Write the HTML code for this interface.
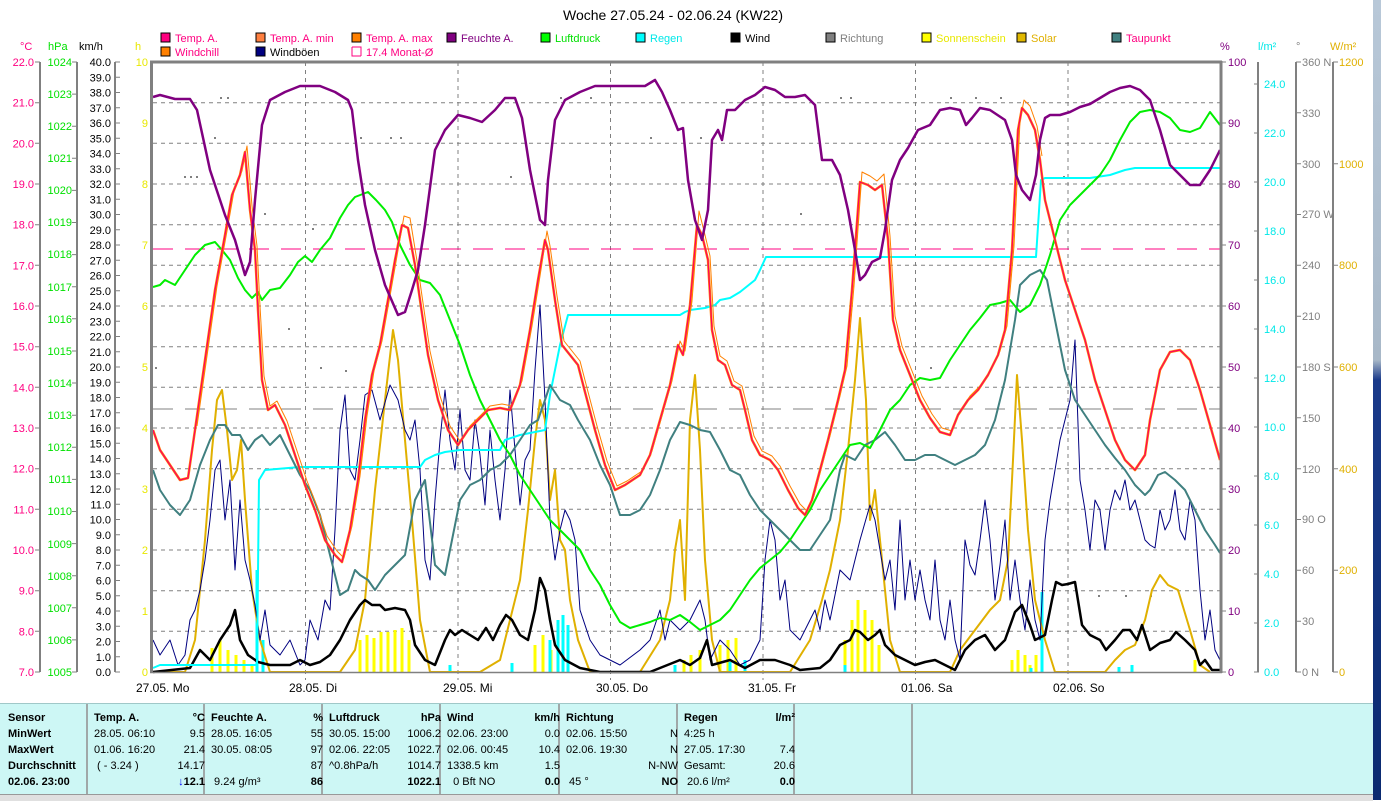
<!DOCTYPE html>
<html><head><meta charset="utf-8"><style>
body{margin:0;width:1381px;height:800px;background:#fff;overflow:hidden;position:relative;font-family:"Liberation Sans",sans-serif}
svg{position:absolute;left:0;top:0}
.tb{position:absolute;top:703px;left:0;width:1373px;height:91px;background:#cdf7f5;border-top:1px solid #a0c8c8}
.col{position:absolute;top:0;height:91px;border-right:2px solid #a0a8a8;font-size:11px;line-height:16px}
.col div{position:relative;height:16px;white-space:nowrap}
.col .r{position:absolute;right:4px;top:0}
.b{font-weight:bold}
.st{position:absolute;top:794px;left:0;width:1373px;height:6px;background:#e0e0e0;border-top:1px solid #999}
.desk{position:absolute;left:1373px;top:0;width:8px;height:800px;background:linear-gradient(#b8c8d8 0,#a8b8c8 360px,#1a3a8a 380px,#0a2a70 800px)}
</style></head><body>
<svg width="1381" height="800" font-family="Liberation Sans, sans-serif" font-size="11">
<text x="673" y="20" font-size="14" text-anchor="middle">Woche 27.05.24 - 02.06.24 (KW22)</text>
<g font-size="11">
<rect x="161" y="33" width="9" height="9" fill="#ff0080" stroke="#000"/><text x="175" y="42" fill="#ff0080">Temp. A.</text>
<rect x="256" y="33" width="9" height="9" fill="#ff8040" stroke="#000"/><text x="270" y="42" fill="#ff0080">Temp. A. min</text>
<rect x="352" y="33" width="9" height="9" fill="#ff8000" stroke="#000"/><text x="366" y="42" fill="#ff0080">Temp. A. max</text>
<rect x="447" y="33" width="9" height="9" fill="#800080" stroke="#000"/><text x="461" y="42" fill="#800080">Feuchte A.</text>
<rect x="541" y="33" width="9" height="9" fill="#00ff00" stroke="#000"/><text x="555" y="42" fill="#00e000">Luftdruck</text>
<rect x="636" y="33" width="9" height="9" fill="#00ffff" stroke="#000"/><text x="650" y="42" fill="#00e8e8">Regen</text>
<rect x="731" y="33" width="9" height="9" fill="#000" stroke="#000"/><text x="745" y="42">Wind</text>
<rect x="826" y="33" width="9" height="9" fill="#808080" stroke="#000"/><text x="840" y="42" fill="#808080">Richtung</text>
<rect x="922" y="33" width="9" height="9" fill="#ffff00" stroke="#000"/><text x="936" y="42" fill="#e8e800">Sonnenschein</text>
<rect x="1017" y="33" width="9" height="9" fill="#e0b800" stroke="#000"/><text x="1031" y="42" fill="#e0b000">Solar</text>
<rect x="1112" y="33" width="9" height="9" fill="#408080" stroke="#000"/><text x="1126" y="42" fill="#ff0080">Taupunkt</text>
<rect x="161" y="47" width="9" height="9" fill="#ff8000" stroke="#000"/><text x="175" y="56" fill="#ff0080">Windchill</text>
<rect x="256" y="47" width="9" height="9" fill="#000080" stroke="#000"/><text x="270" y="56">Windböen</text>
<path d="M352 47v9h9M352 47h9v9" fill="none" stroke="#ff0080"/><text x="366" y="56" fill="#ff0080">17.4 Monat-Ø</text>
</g>
<text x="20" y="50" fill="#ff0080">°C</text><text x="48" y="50" fill="#00e000">hPa</text><text x="79" y="50">km/h</text><text x="135" y="50" fill="#e8e800">h</text>
<text x="1220" y="50" fill="#800080">%</text><text x="1258" y="50" fill="#00e8e8">l/m²</text><text x="1296" y="50" fill="#808080">°</text><text x="1330" y="50" fill="#e0b000">W/m²</text>
<g stroke="#808080" stroke-width="2"><line x1="40" y1="62" x2="40" y2="672"/><line x1="77" y1="62" x2="77" y2="672"/><line x1="115" y1="62" x2="115" y2="672"/>
<line x1="1258" y1="62" x2="1258" y2="672"/><line x1="1296" y1="62" x2="1296" y2="672"/><line x1="1333" y1="62" x2="1333" y2="672"/></g>
<g fill="#ff0080" text-anchor="end" stroke="#808080">
<g stroke-width="1">
<path d="M35 62h5M35 102.7h5M35 143.3h5M35 184h5M35 224.7h5M35 265.3h5M35 306h5M35 346.7h5M35 387.3h5M35 428h5M35 468.7h5M35 509.3h5M35 550h5M35 590.7h5M35 631.3h5M35 672h5"/></g>
<g stroke="none"><text x="34" y="66">22.0</text><text x="34" y="106.7">21.0</text><text x="34" y="147.3">20.0</text><text x="34" y="188">19.0</text><text x="34" y="228.7">18.0</text><text x="34" y="269.3">17.0</text><text x="34" y="310">16.0</text><text x="34" y="350.7">15.0</text><text x="34" y="391.3">14.0</text><text x="34" y="432">13.0</text><text x="34" y="472.7">12.0</text><text x="34" y="513.3">11.0</text><text x="34" y="554">10.0</text><text x="34" y="594.7">9.0</text><text x="34" y="635.3">8.0</text><text x="34" y="676">7.0</text></g></g>
<g fill="#00e000" text-anchor="end">
<path stroke="#808080" d="M72 62h5M72 94.1h5M72 126.2h5M72 158.3h5M72 190.4h5M72 222.5h5M72 254.6h5M72 286.7h5M72 318.8h5M72 351h5M72 383h5M72 415.2h5M72 447.3h5M72 479.4h5M72 511.5h5M72 543.6h5M72 575.7h5M72 607.8h5M72 639.9h5M72 672h5"/>
<text x="72" y="66">1024</text><text x="72" y="98">1023</text><text x="72" y="130">1022</text><text x="72" y="162">1021</text><text x="72" y="194">1020</text><text x="72" y="226">1019</text><text x="72" y="258">1018</text><text x="72" y="291">1017</text><text x="72" y="323">1016</text><text x="72" y="355">1015</text><text x="72" y="387">1014</text><text x="72" y="419">1013</text><text x="72" y="451">1012</text><text x="72" y="483">1011</text><text x="72" y="515">1010</text><text x="72" y="548">1009</text><text x="72" y="580">1008</text><text x="72" y="612">1007</text><text x="72" y="644">1006</text><text x="72" y="676">1005</text></g>
<g text-anchor="end" font-size="11">
<path stroke="#808080" d="M115 62h5M115 77.3h5M115 92.5h5M115 107.8h5M115 123h5M115 138.3h5M115 153.5h5M115 168.8h5M115 184h5M115 199.3h5M115 214.5h5M115 229.8h5M115 245h5M115 260.3h5M115 275.5h5M115 290.8h5M115 306h5M115 321.3h5M115 336.5h5M115 351.8h5M115 367h5M115 382.3h5M115 397.5h5M115 412.8h5M115 428h5M115 443.3h5M115 458.5h5M115 473.8h5M115 489h5M115 504.3h5M115 519.5h5M115 534.8h5M115 550h5M115 565.3h5M115 580.5h5M115 595.8h5M115 611h5M115 626.3h5M115 641.5h5M115 656.8h5M115 672h5"/>
<text x="111" y="66">40.0</text><text x="111" y="81.3">39.0</text><text x="111" y="96.5">38.0</text><text x="111" y="111.8">37.0</text><text x="111" y="127">36.0</text><text x="111" y="142.3">35.0</text><text x="111" y="157.5">34.0</text><text x="111" y="172.8">33.0</text><text x="111" y="188">32.0</text><text x="111" y="203.3">31.0</text><text x="111" y="218.5">30.0</text><text x="111" y="233.8">29.0</text><text x="111" y="249">28.0</text><text x="111" y="264.3">27.0</text><text x="111" y="279.5">26.0</text><text x="111" y="294.8">25.0</text><text x="111" y="310">24.0</text><text x="111" y="325.3">23.0</text><text x="111" y="340.5">22.0</text><text x="111" y="355.8">21.0</text><text x="111" y="371">20.0</text><text x="111" y="386.3">19.0</text><text x="111" y="401.5">18.0</text><text x="111" y="416.8">17.0</text><text x="111" y="432">16.0</text><text x="111" y="447.3">15.0</text><text x="111" y="462.5">14.0</text><text x="111" y="477.8">13.0</text><text x="111" y="493">12.0</text><text x="111" y="508.3">11.0</text><text x="111" y="523.5">10.0</text><text x="111" y="538.8">9.0</text><text x="111" y="554">8.0</text><text x="111" y="569.3">7.0</text><text x="111" y="584.5">6.0</text><text x="111" y="599.8">5.0</text><text x="111" y="615">4.0</text><text x="111" y="630.3">3.0</text><text x="111" y="645.5">2.0</text><text x="111" y="660.8">1.0</text><text x="111" y="676">0.0</text></g>
<g fill="#e8e800" text-anchor="end"><text x="148" y="66">10</text><text x="148" y="127">9</text><text x="148" y="188">8</text><text x="148" y="249">7</text><text x="148" y="310">6</text><text x="148" y="371">5</text><text x="148" y="432">4</text><text x="148" y="493">3</text><text x="148" y="554">2</text><text x="148" y="615">1</text><text x="148" y="676">0</text></g>
<g fill="#800080"><path stroke="#808080" d="M1221 62h5M1221 123h5M1221 184h5M1221 245h5M1221 306h5M1221 367h5M1221 428h5M1221 489h5M1221 550h5M1221 611h5M1221 672h5"/>
<text x="1228" y="66">100</text><text x="1228" y="127">90</text><text x="1228" y="188">80</text><text x="1228" y="249">70</text><text x="1228" y="310">60</text><text x="1228" y="371">50</text><text x="1228" y="432">40</text><text x="1228" y="493">30</text><text x="1228" y="554">20</text><text x="1228" y="615">10</text><text x="1228" y="676">0</text></g>
<g fill="#00e8e8"><path stroke="#808080" d="M1254 84h5M1254 133h5M1254 182h5M1254 231h5M1254 280h5M1254 329h5M1254 378h5M1254 427h5M1254 476h5M1254 525h5M1254 574h5M1254 623h5M1254 672h5"/>
<text x="1264" y="88">24.0</text><text x="1264" y="137">22.0</text><text x="1264" y="186">20.0</text><text x="1264" y="235">18.0</text><text x="1264" y="284">16.0</text><text x="1264" y="333">14.0</text><text x="1264" y="382">12.0</text><text x="1264" y="431">10.0</text><text x="1264" y="480">8.0</text><text x="1264" y="529">6.0</text><text x="1264" y="578">4.0</text><text x="1264" y="627">2.0</text><text x="1264" y="676">0.0</text></g>
<g fill="#808080"><path stroke="#808080" d="M1296 62h5M1296 112.8h5M1296 163.7h5M1296 214.5h5M1296 265.3h5M1296 316.2h5M1296 367h5M1296 417.8h5M1296 468.7h5M1296 519.5h5M1296 570.3h5M1296 621.2h5M1296 672h5"/>
<text x="1302" y="66">360 N</text><text x="1302" y="117">330</text><text x="1302" y="168">300</text><text x="1302" y="218">270 W</text><text x="1302" y="269">240</text><text x="1302" y="320">210</text><text x="1302" y="371">180 S</text><text x="1302" y="422">150</text><text x="1302" y="473">120</text><text x="1302" y="523">90  O</text><text x="1302" y="574">60</text><text x="1302" y="625">30</text><text x="1302" y="676">0   N</text></g>
<g fill="#e0b000"><path stroke="#808080" d="M1333 62h5M1333 163.7h5M1333 265.3h5M1333 367h5M1333 468.7h5M1333 570.3h5M1333 672h5"/>
<text x="1339" y="66">1200</text><text x="1339" y="168">1000</text><text x="1339" y="269">800</text><text x="1339" y="371">600</text><text x="1339" y="473">400</text><text x="1339" y="574">200</text><text x="1339" y="676">0</text></g>
<g stroke="#808080" stroke-dasharray="4,4" stroke-width="1">
<path d="M153 102.7H1220M153 143.3H1220M153 184H1220M153 224.7H1220M153 265.3H1220M153 306H1220M153 346.7H1220M153 387.3H1220M153 428H1220M153 468.7H1220M153 509.3H1220M153 550H1220M153 590.7H1220M153 631.3H1220"/>
<path d="M305.5 62V680M458 62V680M610.5 62V680M763 62V680M915.5 62V680M1068 62V680"/>
</g>
<line x1="153" y1="249" x2="1220" y2="249" stroke="#ff0080" stroke-dasharray="20,12"/>
<line x1="153" y1="409" x2="1220" y2="409" stroke="#808080" stroke-dasharray="20,12"/>
<g stroke="#ffff00" stroke-width="3">
<path d="M212 672V648M220 672V640M228 672V650M236 672V655M244 672V660M252 672V664M360 672V640M367 672V635M374 672V638M381 672V632M388 672V632M395 672V630M402 672V628M409 672V640M535 672V645M543 672V635M551 672V650M684 672V660M691 672V655M700 672V650M720 672V645M728 672V640M736 672V638M745 672V660M845 672V640M852 672V620M858 672V600M865 672V610M872 672V620M879 672V645M1012 672V660M1018 672V650M1025 672V655M1030 672V665M1036 672V655M1195 672V660"/>
</g>
<g stroke="#00ffff" stroke-width="3"><path d="M257 672V570M263 672V640M450 672V665M512 672V663M550 672V640M558 672V620M563 672V615M568 672V625M675 672V665M730 672V662M745 672V660M845 672V665M1031 672V668M1042 672V592M1119 672V667M1132 672V665"/></g>
<g fill="#808080"><rect x="220" y="97" width="2" height="2"/><rect x="227" y="97" width="2" height="2"/><rect x="184" y="176" width="2" height="2"/><rect x="190" y="176" width="2" height="2"/><rect x="196" y="176" width="2" height="2"/><rect x="214" y="137" width="2" height="2"/><rect x="264" y="213" width="2" height="2"/><rect x="288" y="328" width="2" height="2"/><rect x="312" y="228" width="2" height="2"/><rect x="360" y="137" width="2" height="2"/><rect x="390" y="137" width="2" height="2"/><rect x="400" y="137" width="2" height="2"/><rect x="320" y="367" width="2" height="2"/><rect x="345" y="370" width="2" height="2"/><rect x="510" y="176" width="2" height="2"/><rect x="560" y="97" width="2" height="2"/><rect x="590" y="97" width="2" height="2"/><rect x="650" y="137" width="2" height="2"/><rect x="700" y="137" width="2" height="2"/><rect x="800" y="213" width="2" height="2"/><rect x="840" y="97" width="2" height="2"/><rect x="850" y="97" width="2" height="2"/><rect x="950" y="97" width="2" height="2"/><rect x="975" y="97" width="2" height="2"/><rect x="1000" y="97" width="2" height="2"/><rect x="1063" y="176" width="2" height="2"/><rect x="1098" y="595" width="2" height="2"/><rect x="1125" y="595" width="2" height="2"/><rect x="1150" y="595" width="2" height="2"/><rect x="1205" y="630" width="2" height="2"/><rect x="930" y="367" width="2" height="2"/><rect x="155" y="367" width="2" height="2"/></g>
<g fill="none" stroke-linejoin="round">
<polyline stroke="#e0b000" stroke-width="2" points="153,672 185,672 195,640 205,540 212,450 217,400 222,390 227,430 232,480 237,470 241,440 245,500 252,590 260,640 270,672 340,672 355,650 365,600 375,490 385,400 393,330 398,360 405,440 412,520 420,620 430,672 480,672 500,660 510,620 520,580 528,510 535,440 540,400 545,420 550,500 555,470 560,540 565,550 570,600 578,640 590,672 640,672 660,640 670,600 675,550 680,520 685,600 690,420 695,375 700,450 705,560 712,640 720,672 790,672 810,640 822,600 830,570 840,520 848,450 855,380 860,318 866,400 870,520 875,490 882,560 890,640 900,672 950,672 960,650 975,630 990,610 1000,600 1008,560 1013,460 1017,375 1022,440 1028,530 1035,600 1045,640 1055,672 1105,672 1115,660 1125,650 1135,645 1145,620 1152,590 1160,575 1168,585 1178,590 1190,630 1200,665 1210,672"/>
<polyline stroke="#000080" stroke-width="1" points="153,640 160,655 170,640 178,665 185,655 190,620 195,610 200,590 205,560 210,520 215,470 220,460 225,520 230,480 235,570 240,500 245,560 250,580 255,605 260,640 265,610 270,645 280,655 290,640 300,665 305,660 310,620 318,640 325,600 330,610 335,530 340,430 345,395 350,470 355,480 360,440 365,395 372,390 380,420 390,385 398,400 405,430 410,440 415,420 420,470 425,560 430,580 435,500 440,440 445,390 450,440 455,470 460,410 465,470 470,480 475,420 480,455 485,505 490,430 495,480 500,520 505,470 510,390 515,450 520,505 525,460 530,450 535,370 540,305 545,400 550,520 555,560 560,530 565,510 570,520 575,540 580,610 590,640 600,655 620,665 640,650 650,640 660,610 665,640 670,620 680,630 690,620 700,600 705,620 710,660 720,640 730,650 740,665 750,660 760,640 765,560 770,520 775,540 780,600 785,580 790,630 800,640 810,620 815,610 820,630 825,600 830,620 840,570 850,580 860,540 870,505 875,520 880,550 885,580 890,560 895,610 900,520 905,600 910,560 915,600 920,570 925,600 930,620 935,560 940,620 945,640 950,600 955,640 960,660 965,540 970,565 975,575 980,540 985,500 990,540 995,600 1000,565 1005,520 1010,600 1015,560 1020,600 1025,630 1030,580 1035,620 1040,640 1045,540 1050,500 1055,470 1060,440 1065,420 1070,400 1075,340 1080,480 1085,510 1090,550 1095,500 1100,510 1105,550 1110,510 1115,490 1120,500 1125,480 1130,510 1135,500 1140,520 1145,540 1150,545 1155,548 1160,510 1165,530 1170,520 1175,490 1180,530 1185,540 1190,500 1195,520 1200,590 1205,640 1210,610 1215,650 1220,660"/>
<polyline stroke="#000" stroke-width="2.5" points="153,672 190,668 200,650 210,660 220,640 230,625 235,610 240,640 248,655 258,662 270,665 290,665 300,660 310,665 320,662 330,655 340,640 350,620 360,605 365,600 372,605 380,605 385,610 395,608 405,610 410,620 415,645 425,660 435,665 445,640 450,630 455,635 462,630 470,635 478,640 486,628 493,640 500,625 506,615 512,620 520,635 528,640 535,610 540,578 545,590 550,620 555,645 565,660 580,668 600,672 650,672 680,660 690,665 700,658 707,640 712,665 730,660 745,668 760,660 775,660 790,665 800,670 820,668 830,660 840,645 850,640 855,630 860,632 868,640 875,635 880,630 885,645 895,655 905,660 915,665 925,662 935,660 945,665 955,670 965,650 975,640 985,635 995,650 1005,640 1015,612 1022,605 1030,625 1035,640 1045,635 1052,600 1056,582 1062,585 1068,584 1075,582 1082,625 1090,635 1100,640 1106,650 1115,640 1123,630 1130,630 1137,640 1142,625 1150,650 1160,643 1170,640 1176,632 1185,640 1195,650 1200,665 1205,660 1212,670 1220,670"/>
<polyline stroke="#00ffff" stroke-width="2" points="153,668 160,665 257,665 259,480 265,470 300,467 420,467 425,460 435,455 445,452 460,450 500,450 505,440 520,435 535,432 545,430 550,395 560,345 568,315 680,315 685,312 690,310 705,308 715,305 720,300 730,298 740,292 755,280 760,270 766,257 1036,257 1041,180 1045,178 1090,178 1110,175 1125,170 1135,168 1220,168"/>
<polyline stroke="#408080" stroke-width="2" points="153,470 160,490 170,505 180,515 190,500 200,465 210,440 218,425 225,425 232,435 240,435 248,450 255,440 262,435 270,445 280,435 290,455 300,475 310,490 320,515 330,555 340,595 348,590 355,570 360,575 368,580 375,590 385,575 395,565 405,555 415,500 425,480 435,565 445,575 452,540 460,500 470,485 480,480 490,470 500,465 510,455 520,440 530,425 538,420 545,400 550,385 560,400 570,405 578,420 590,440 600,465 610,485 620,515 630,515 640,510 650,495 660,470 670,440 680,422 690,425 700,430 710,432 720,450 730,470 740,475 750,495 760,510 770,520 780,530 790,540 800,550 810,550 820,535 830,520 840,470 845,455 855,460 865,445 875,440 885,432 895,445 905,460 915,460 925,455 935,455 945,460 955,465 965,460 975,455 985,445 995,420 1005,380 1015,320 1020,285 1030,275 1040,270 1047,280 1055,320 1065,370 1075,400 1085,415 1095,430 1105,445 1115,458 1125,470 1135,485 1145,495 1150,490 1158,475 1165,472 1175,480 1185,490 1195,510 1205,530 1215,545 1220,553"/>
<polyline stroke="#00ee00" stroke-width="2" points="153,287 160,285 165,280 175,285 185,270 195,255 205,245 215,242 222,250 230,260 238,278 245,290 252,298 258,292 262,300 270,290 280,288 290,275 298,262 305,256 312,262 320,250 330,238 340,218 348,205 355,197 368,192 376,200 385,210 392,222 400,245 410,265 420,280 430,283 440,295 450,320 460,345 470,375 480,400 490,420 500,440 510,455 520,475 530,490 540,505 550,520 560,530 570,540 580,550 590,570 600,585 610,605 620,622 630,628 640,625 650,622 660,618 670,620 680,615 690,622 700,630 710,625 720,620 730,610 740,595 750,580 760,568 770,560 780,552 790,540 800,525 810,510 820,490 830,475 840,460 850,445 860,443 870,448 880,430 890,410 900,400 910,385 920,378 930,380 940,378 950,360 960,345 970,330 980,318 990,305 1000,303 1010,300 1020,312 1030,305 1040,285 1050,255 1060,220 1070,205 1080,195 1090,185 1100,175 1110,160 1120,140 1130,122 1140,112 1150,110 1160,112 1170,118 1180,130 1190,132 1200,128 1210,112 1220,125"/>
<polyline stroke="#ff8000" stroke-width="1" transform="translate(2,-4)" points="195,430 205,360 215,290 225,235 232,195 240,175 245,150 250,210 255,250 258,310 262,380 268,410 275,405 285,425 295,455 305,485 315,510 325,540 335,555 342,562 350,530 358,480 365,420 372,375 380,345 388,300 395,260 402,220 408,222 415,265 420,300 428,355 438,400 448,430 458,445 468,430 478,420 488,410 500,408 510,410 520,385 530,330 538,280 545,235 548,250 555,300 562,345 570,355 578,365 585,392 595,430 605,465 615,490 625,485 640,475 650,455 660,420 670,385 678,345 683,355 690,305 697,215 702,235 708,260 712,330 718,360 725,365 732,385 740,390 745,410 752,440 760,455 770,460 778,470 788,490 798,508 805,515 812,500 820,470 828,440 838,400 845,370 852,290 860,176 868,180 875,185 882,178 888,240 893,320 900,350 910,375 920,400 930,418 940,432 950,435 958,415 968,400 978,390 988,375 998,355 1005,330 1012,250 1018,125 1022,104 1028,110 1035,130 1040,160"/>
<polyline stroke="#ff8000" stroke-width="2.5" points="153,430 160,450 170,465 180,480 188,478 195,430 205,360 215,290 225,235 232,195 240,175 245,152 250,210 255,250 258,310 262,380 268,410 275,405 285,425 295,455 305,485 315,510 325,540 335,555 342,562 350,530 358,480 365,420 372,375 380,345 388,300 395,260 402,225 408,228 415,265 420,300 428,355 438,400 448,430 458,445 468,430 478,420 488,410 500,408 510,410 520,385 530,330 538,280 545,240 548,250 555,300 562,345 570,355 578,365 585,392 595,430 605,465 615,490 625,485 640,475 650,455 660,420 670,385 678,345 683,355 690,305 697,225 702,235 708,260 712,330 718,360 725,365 732,385 740,390 745,410 752,440 760,455 770,460 778,470 788,490 798,508 805,515 812,500 820,470 828,440 838,400 845,370 852,290 860,182 868,185 875,190 882,185 888,240 893,320 900,350 910,375 920,400 930,418 940,432 950,435 958,415 968,400 978,390 988,375 998,355 1005,330 1012,250 1018,130 1022,108 1028,115 1035,130 1040,160 1045,200 1055,240 1065,280 1075,310 1085,340 1095,380 1105,410 1115,440 1125,460 1135,470 1145,455 1150,420 1160,370 1170,352 1180,350 1190,360 1200,390 1210,425 1220,460"/>
<polyline stroke="#ff0060" stroke-width="1.2" points="153,430 160,450 170,465 180,480 188,478 195,430 205,360 215,290 225,235 232,195 240,175 245,152 250,210 255,250 258,310 262,380 268,410 275,405 285,425 295,455 305,485 315,510 325,540 335,555 342,562 350,530 358,480 365,420 372,375 380,345 388,300 395,260 402,225 408,228 415,265 420,300 428,355 438,400 448,430 458,445 468,430 478,420 488,410 500,408 510,410 520,385 530,330 538,280 545,240 548,250 555,300 562,345 570,355 578,365 585,392 595,430 605,465 615,490 625,485 640,475 650,455 660,420 670,385 678,345 683,355 690,305 697,225 702,235 708,260 712,330 718,360 725,365 732,385 740,390 745,410 752,440 760,455 770,460 778,470 788,490 798,508 805,515 812,500 820,470 828,440 838,400 845,370 852,290 860,182 868,185 875,190 882,185 888,240 893,320 900,350 910,375 920,400 930,418 940,432 950,435 958,415 968,400 978,390 988,375 998,355 1005,330 1012,250 1018,130 1022,108 1028,115 1035,130 1040,160 1045,200 1055,240 1065,280 1075,310 1085,340 1095,380 1105,410 1115,440 1125,460 1135,470 1145,455 1150,420 1160,370 1170,352 1180,350 1190,360 1200,390 1210,425 1220,460"/>
<polyline stroke="#800080" stroke-width="2.5" points="153,97 160,95 175,99 190,99 197,110 210,170 225,215 235,240 245,275 250,262 255,200 262,125 270,100 285,92 300,86 320,86 335,92 348,100 352,110 358,160 365,205 375,250 385,285 398,315 405,312 412,290 418,270 425,225 435,150 445,130 458,115 470,118 482,122 495,110 505,98 515,98 522,118 530,170 540,220 545,225 548,180 555,120 565,100 580,92 595,86 610,86 645,86 655,80 662,92 670,110 678,130 683,128 688,180 695,220 702,240 708,210 712,140 718,130 722,140 727,110 735,110 745,100 755,95 765,87 775,90 785,97 795,97 805,95 815,105 822,160 832,160 840,175 848,210 855,250 860,280 865,275 872,262 880,258 885,230 892,180 900,160 908,148 918,130 930,125 940,110 950,108 960,110 966,125 972,118 980,108 990,110 1005,120 1012,140 1016,175 1022,190 1030,200 1036,175 1040,140 1045,118 1050,115 1060,115 1070,112 1080,107 1090,104 1100,98 1110,92 1120,88 1130,86 1140,90 1150,100 1160,130 1170,165 1180,175 1190,185 1200,185 1210,170 1220,150"/>
</g>
<g stroke="#808080" stroke-width="3"><line x1="151.5" y1="61" x2="151.5" y2="673"/><line x1="150" y1="62" x2="1222" y2="62"/><line x1="1221" y1="61" x2="1221" y2="673"/></g>
<line x1="150" y1="672.5" x2="1222" y2="672.5" stroke="#808080" stroke-width="1.5"/>
<g font-size="12"><text x="136" y="692">27.05.  Mo</text><text x="289" y="692">28.05.  Di</text><text x="443" y="692">29.05.  Mi</text><text x="596" y="692">30.05.  Do</text><text x="748" y="692">31.05.  Fr</text><text x="901" y="692">01.06.  Sa</text><text x="1053" y="692">02.06.  So</text></g>
</svg>
<div class="tb">
<div class="col b" style="left:0;width:86px"><div style="left:8px;top:6px">Sensor</div><div style="left:8px;top:6px">MinWert</div><div style="left:8px;top:6px">MaxWert</div><div style="left:8px;top:6px">Durchschnitt</div><div style="left:8px;top:6px">02.06. 23:00</div></div>
<div class="col" style="left:88px;width:115px"><div class="b" style="left:6px;top:6px">Temp. A.<span class="r">°C</span></div><div style="left:6px;top:6px">28.05.  06:10<span class="r">9.5</span></div><div style="left:6px;top:6px">01.06.  16:20<span class="r">21.4</span></div><div style="left:6px;top:6px">&nbsp;( - 3.24 )<span class="r">14.17</span></div><div style="left:6px;top:6px"><span class="r b"><span style="color:#0000ff">↓</span>12.1</span></div></div>
<div class="col" style="left:205px;width:116px"><div class="b" style="left:6px;top:6px">Feuchte A.<span class="r">%</span></div><div style="left:6px;top:6px">28.05.  16:05<span class="r">55</span></div><div style="left:6px;top:6px">30.05.  08:05<span class="r">97</span></div><div style="left:6px;top:6px"><span class="r">87</span></div><div style="left:6px;top:6px">&nbsp;9.24 g/m³<span class="r b">86</span></div></div>
<div class="col" style="left:323px;width:116px"><div class="b" style="left:6px;top:6px">Luftdruck<span class="r">hPa</span></div><div style="left:6px;top:6px">30.05.  15:00<span class="r">1006.2</span></div><div style="left:6px;top:6px">02.06.  22:05<span class="r">1022.7</span></div><div style="left:6px;top:6px">^0.8hPa/h<span class="r">1014.7</span></div><div style="left:6px;top:6px"><span class="r b">1022.1</span></div></div>
<div class="col" style="left:441px;width:117px"><div class="b" style="left:6px;top:6px">Wind<span class="r">km/h</span></div><div style="left:6px;top:6px">02.06.  23:00<span class="r">0.0</span></div><div style="left:6px;top:6px">02.06.  00:45<span class="r">10.4</span></div><div style="left:6px;top:6px">1338.5 km<span class="r">1.5</span></div><div style="left:6px;top:6px">&nbsp;&nbsp;0 Bft NO<span class="r b">0.0</span></div></div>
<div class="col" style="left:560px;width:116px"><div class="b" style="left:6px;top:6px">Richtung</div><div style="left:6px;top:6px">02.06.  15:50<span class="r">N</span></div><div style="left:6px;top:6px">02.06.  19:30<span class="r">N</span></div><div style="left:6px;top:6px"><span class="r">N-NW</span></div><div style="left:6px;top:6px">&nbsp;45 °<span class="r b">NO</span></div></div>
<div class="col" style="left:678px;width:115px"><div class="b" style="left:6px;top:6px">Regen<span class="r">l/m²</span></div><div style="left:6px;top:6px">4:25 h</div><div style="left:6px;top:6px">27.05.  17:30<span class="r">7.4</span></div><div style="left:6px;top:6px">Gesamt:<span class="r">20.6</span></div><div style="left:6px;top:6px">&nbsp;20.6 l/m²<span class="r b">0.0</span></div></div>
<div class="col" style="left:795px;width:116px"></div>
</div>
<div class="st"></div>
<div class="desk"></div>
</body></html>
